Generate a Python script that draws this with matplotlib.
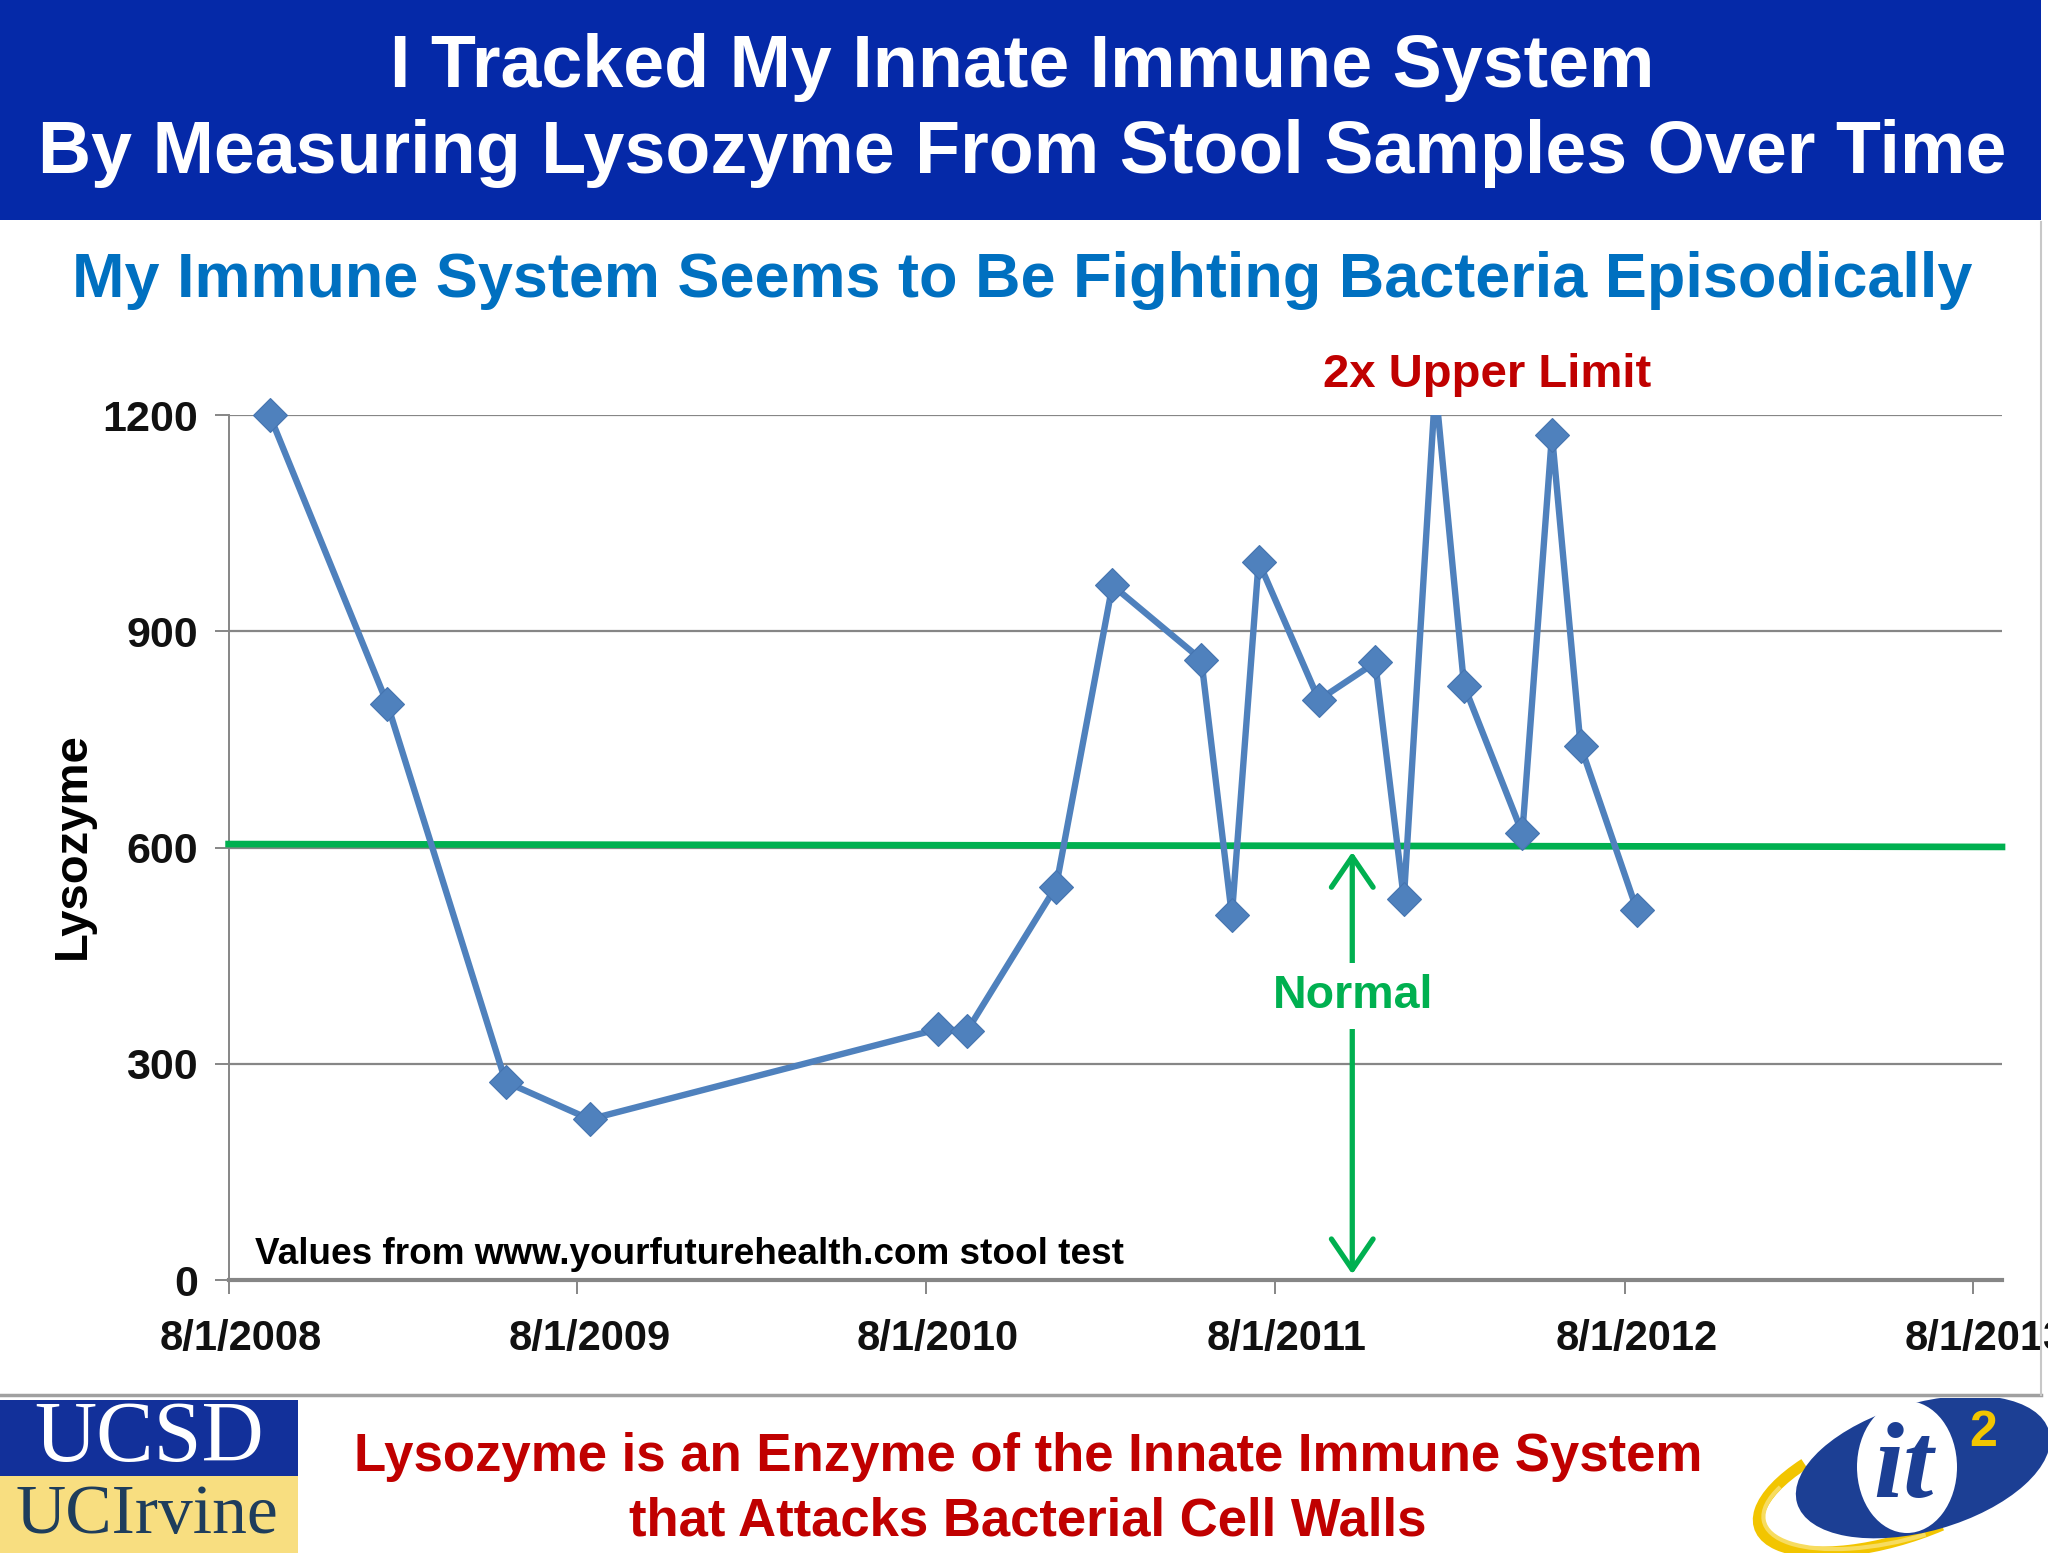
import matplotlib
matplotlib.use("Agg")
import matplotlib.pyplot as plt
import matplotlib.transforms as mtransforms
from matplotlib.patches import Rectangle, Ellipse, Arc
import numpy as np
import datetime as dt

# ---------------- data ----------------
sample_dates = ["2008-09-13", "2009-01-14", "2009-05-18", "2009-08-14",
                "2010-08-13", "2010-09-13", "2010-12-15", "2011-02-12",
                "2011-05-16", "2011-06-17", "2011-07-15", "2011-09-16",
                "2011-11-14", "2011-12-14", "2012-01-16", "2012-02-15",
                "2012-04-16", "2012-05-17", "2012-06-16", "2012-08-14"]
lysozyme = [1200, 800, 275, 223,
            348, 346, 546, 964,
            861, 506, 997, 805,
            857, 529, 1240, 825,
            620, 1173, 741, 513]
normal_limit = [605, 601]
normal_limit_dates = ["2008-08-01", "2013-08-31"]
normal_arrow_date = "2011-10-21"
y_ticks = [0, 300, 600, 900, 1200]
x_tick_dates = ["2008-08-01", "2009-08-01", "2010-08-01",
                "2011-08-01", "2012-08-01", "2013-08-01"]
x_tick_labels = ["8/1/2008", "8/1/2009", "8/1/2010",
                 "8/1/2011", "8/1/2012", "8/1/2013"]

title_lines = ["I Tracked My Innate Immune System",
               "By Measuring Lysozyme From Stool Samples Over Time"]
subtitle = "My Immune System Seems to Be Fighting Bacteria Episodically"
footer_lines = ["Lysozyme is an Enzyme of the Innate Immune System",
                "that Attacks Bacterial Cell Walls"]

def d(s):
    return dt.datetime.strptime(s, "%Y-%m-%d")

W, H = 2048, 1553
fig = plt.figure(figsize=(W / 100, H / 100), dpi=100)
fig.patch.set_facecolor("white")

def fx(x):
    return x / W

def fy(y):
    return 1 - y / H

SANS = ["Liberation Sans", "Arial", "DejaVu Sans"]
NARROW = ["Liberation Sans Narrow", "Arial Narrow", "Liberation Sans", "DejaVu Sans"]
SERIF = ["Liberation Serif", "DejaVu Serif"]

# ---------------- banner ----------------
fig.patches.append(Rectangle((0, fy(220)), fx(2041), 220 / H, transform=fig.transFigure,
                             facecolor="#0529A8", edgecolor="none", zorder=0))
fig.text(fx(1022), fy(68), title_lines[0], color="white", fontsize=53, fontweight="bold",
         family=SANS, ha="center", va="center")
fig.text(fx(1022), fy(154), title_lines[1], color="white", fontsize=53, fontweight="bold",
         family=SANS, ha="center", va="center")
fig.text(fx(1022), fy(281), subtitle, color="#0070C0", fontsize=45.4, fontweight="bold",
         family=SANS, ha="center", va="center")

# chart frame lines
fig.add_artist(plt.Line2D([0, fx(2041)], [fy(1395), fy(1395)], transform=fig.transFigure,
                          color="#A0A0A0", lw=2.5))
fig.add_artist(plt.Line2D([fx(2041), fx(2041)], [fy(222), fy(1395)], transform=fig.transFigure,
                          color="#C8C8C8", lw=1.5))

# ---------------- chart ----------------
ax = fig.add_axes([fx(228.6), fy(1280), fx(2002) - fx(228.6), (1280 - 415.3) / H])
xd = [d(s) for s in sample_dates]
vals = np.array(lysozyme, dtype=float)
blue = "#4F81BD"

ax.plot(xd, vals, color=blue, lw=4.6, zorder=4, solid_joinstyle="miter")
mk = np.ma.masked_greater(vals, y_ticks[-1])
ax.plot(xd, mk, ls="none", marker="D", markersize=17, color=blue,
        markeredgecolor="#4574B0", markeredgewidth=0.8, zorder=5, clip_on=False)

ax.plot([d(s) for s in normal_limit_dates], normal_limit, color="#00B050", lw=4.8, zorder=3,
        clip_on=False)

ax.set_xlim(d("2008-08-01"), d("2013-08-31"))
ax.set_ylim(0, 1200)
ax.set_yticks(y_ticks)
ax.set_yticklabels([str(v) for v in y_ticks])
ax.set_xticks([d(s) for s in x_tick_dates])
ax.set_xticklabels(x_tick_labels)
ax.grid(axis="y", color="#868686", lw=1.6)
ax.set_axisbelow(True)
for s in ["top", "right"]:
    ax.spines[s].set_visible(False)
ax.spines["left"].set_color("#868686")
ax.spines["left"].set_linewidth(1.4)
ax.spines["bottom"].set_color("#868686")
ax.spines["bottom"].set_linewidth(3.0)
ax.tick_params(axis="y", length=10, width=1.4, color="#868686", pad=12, labelsize=31)
ax.tick_params(axis="x", length=10, width=1.4, color="#868686", pad=18, labelsize=30)
for lab in ax.get_yticklabels() + ax.get_xticklabels():
    lab.set_family(NARROW)
    lab.set_fontweight("bold")
    lab.set_color("#111111")
offset = mtransforms.ScaledTranslation(12 / 100, 0, fig.dpi_scale_trans)
for lab in ax.get_xticklabels():
    lab.set_transform(lab.get_transform() + offset)

ax.set_ylabel("Lysozyme", fontsize=34, fontweight="bold", family=SANS, color="black")
ax.yaxis.set_label_coords(fx(95), fy(846), transform=fig.transFigure)

# annotations
fig.text(fx(1487), fy(375), "2x Upper Limit", color="#C00000", fontsize=34, fontweight="bold",
         family=SANS, ha="center", va="center")
fig.text(fx(255), fy(1255), "Values from www.yourfuturehealth.com stool test", color="black",
         fontsize=26.6, fontweight="bold", family=SANS, ha="left", va="center")

ax.annotate("", xy=(d(normal_arrow_date), 594), xytext=(d(normal_arrow_date), 8),
            arrowprops=dict(arrowstyle="<->,head_length=1.1,head_width=0.75",
                            mutation_scale=20, color="#00B050", lw=3.8,
                            shrinkA=0, shrinkB=0), zorder=6)
fig.text(fx(1353), fy(996), "Normal", color="#00B050", fontsize=33.5, fontweight="bold",
         family=SANS, ha="center", va="center", zorder=7,
         bbox=dict(facecolor="white", edgecolor="none", pad=8))

# ---------------- footer ----------------
fig.text(fx(1028), fy(1457), footer_lines[0], color="#C00000", fontsize=38, fontweight="bold",
         family=SANS, ha="center", va="center")
fig.text(fx(1028), fy(1521), footer_lines[1], color="#C00000", fontsize=38, fontweight="bold",
         family=SANS, ha="center", va="center")

# UCSD / UCIrvine logo
fig.patches.append(Rectangle((0, fy(1476)), fx(298), (1476 - 1400) / H, transform=fig.transFigure,
                             facecolor="#12309A", edgecolor="none"))
fig.patches.append(Rectangle((0, 0), fx(298), (1553 - 1476) / H, transform=fig.transFigure,
                             facecolor="#F8DE80", edgecolor="none"))
fig.text(fx(149), fy(1440), "UCSD", color="white", fontsize=62, family=SERIF,
         ha="center", va="center")
fig.text(fx(147), fy(1516), "UCIrvine", color="#1E3D5C", fontsize=50, family=SERIF,
         ha="center", va="center")

# it2 logo
lax = fig.add_axes([fx(1745), 0, fx(2048) - fx(1745), (1553 - 1398) / H])
lax.set_xlim(0, 303)
lax.set_ylim(0, 155)
lax.axis("off")
lax.add_patch(Arc((150, 70), 285, 112, angle=18, theta1=150, theta2=300, color="#F2C500", lw=8))
lax.add_patch(Arc((150, 64), 270, 104, angle=14, theta1=165, theta2=290, color="#F7DC60", lw=3))
lax.add_patch(Ellipse((178, 86), 262, 128, angle=16, facecolor="#1C3F94", edgecolor="none"))
lax.add_patch(Ellipse((162, 86), 100, 132, angle=0, facecolor="white", edgecolor="none"))
lax.text(158, 82, "it", color="#1C3F94", fontsize=78, fontweight="bold", style="italic",
         family=SERIF, ha="center", va="center")
lax.text(238, 120, "2", color="#F2C500", fontsize=36, fontweight="bold", family=SANS,
         ha="center", va="center")

fig.savefig("out.png", dpi=100, facecolor="white")
